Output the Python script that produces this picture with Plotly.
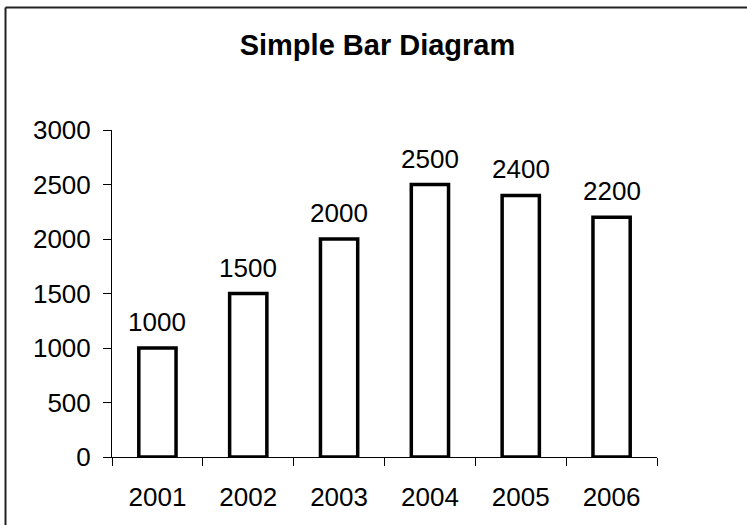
import plotly.graph_objects as go

years = ["2001", "2002", "2003", "2004", "2005", "2006"]
values = [1000, 1500, 2000, 2500, 2400, 2200]
y_ticks = [0, 500, 1000, 1500, 2000, 2500, 3000]
title_text = "Simple Bar Diagram"

W, H = 747, 525
L, R, T, B = 112, 90, 130, 68
pw = W - L - R
ph = H - T - B
FONT = "Liberation Sans, Arial, sans-serif"

fig = go.Figure()
fig.add_trace(go.Bar(
    x=years, y=values,
    marker=dict(color="white", line=dict(color="black", width=3.5)),
    showlegend=False, hoverinfo="x+y",
))

# value labels above bars (category index used as x position on the category axis)
for i, yv in enumerate(values):
    fig.add_annotation(x=i, y=yv, text=str(yv), showarrow=False,
                       xref="x", yref="y",
                       yanchor="bottom", yshift=9,
                       font=dict(family=FONT, size=26, color="black"))

fig.update_layout(
    width=W, height=H,
    margin=dict(l=L, r=R, t=T, b=B, autoexpand=False),
    paper_bgcolor="white", plot_bgcolor="white",
    bargap=0.59,
    title=dict(text="<b>" + title_text + "</b>", x=(377.5 - L) / pw, xref="paper",
               xanchor="center", y=1 - 44.5 / H, yanchor="middle",
               font=dict(family=FONT, size=29, color="black")),
    font=dict(family=FONT, color="black"),
)
fig.update_xaxes(
    type="category", categoryorder="array", categoryarray=years,
    range=[-0.5, len(years) - 0.5], autorange=False,
    showline=True, linecolor="black", linewidth=1,
    ticks="outside", tickson="boundaries", ticklen=8, tickcolor="black",
    tickfont=dict(family=FONT, size=26, color="black"), tickangle=0,
    ticklabelstandoff=17, showgrid=False, zeroline=False, automargin=False,
)
fig.update_yaxes(
    range=[0, 3000], tickvals=y_ticks, showline=True, linecolor="black", linewidth=1,
    ticks="outside", ticklen=8, tickcolor="black",
    tickfont=dict(family=FONT, size=26, color="black"),
    ticklabelstandoff=7, showgrid=False, zeroline=False, automargin=False,
)

# outer frame (left and top edges visible; right/bottom cropped)
bx = (5.5 - L) / pw
by = (H - B - 7.5) / ph
fig.add_shape(type="line", xref="paper", yref="paper", x0=bx, x1=bx, y0=-0.3, y1=by,
              line=dict(color="#222", width=2))
fig.add_shape(type="line", xref="paper", yref="paper", x0=bx, x1=1.2, y0=by, y1=by,
              line=dict(color="#222", width=2))

fig.write_html("out.html",
               config={"displayModeBar": False},
               post_script="document.body.style.margin='0px';document.body.style.padding='0px';")
